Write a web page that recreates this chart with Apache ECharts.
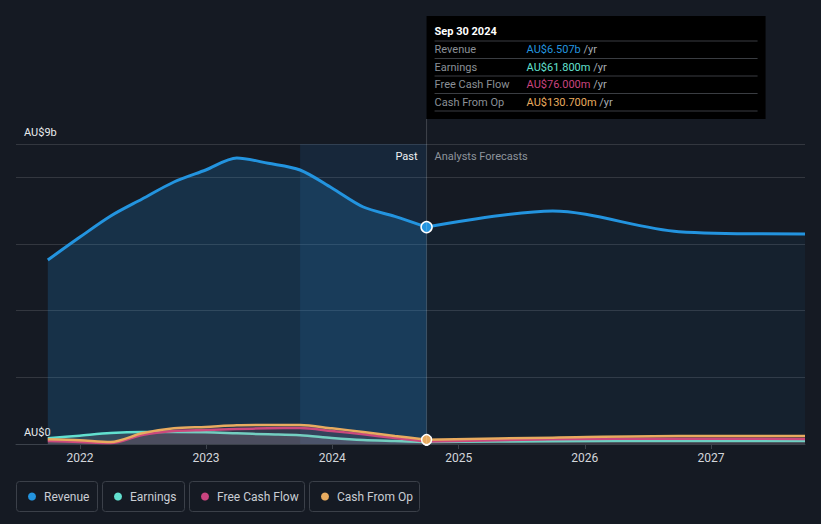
<!DOCTYPE html>
<html>
<head>
<meta charset="utf-8">
<script src="https://cdn.jsdelivr.net/npm/echarts@6/dist/echarts.min.js"></script>
<style>
html,body{margin:0;padding:0;background:#151a23;}
#chart{width:821px;height:524px;}
</style>
</head>
<body>
<div id="chart"></div>
<script>
// ---- data (values in AU$ billions) ----
const pastDates = ['2021-09-30','2021-12-31','2022-03-31','2022-06-30','2022-09-30','2022-12-31','2023-03-31','2023-06-30','2023-09-30','2023-12-31','2024-03-31','2024-06-30','2024-09-30'];
const forecastDates = ['2025-09-30','2026-09-30','2027-09-30'];
const revenuePast = [5.52,6.2,6.84,7.35,7.86,8.22,8.58,8.42,8.22,7.68,7.11,6.83,6.507];
const revenueForecast = [6.99,6.37,6.30];
const earningsPast = [0.17,0.25,0.33,0.36,0.36,0.35,0.32,0.29,0.26,0.18,0.12,0.09,0.0618];
const earningsForecast = [0.08,0.09,0.09];
const fcfPast = [0.09,0.06,0.03,0.27,0.39,0.42,0.45,0.47,0.48,0.39,0.29,0.18,0.076];
const fcfForecast = [0.14,0.16,0.15];
const cfoPast = [0.14,0.11,0.06,0.32,0.47,0.51,0.56,0.57,0.57,0.47,0.36,0.24,0.1307];
const cfoForecast = [0.19,0.24,0.24];
const seriesNames = ['Revenue','Earnings','Free Cash Flow','Cash From Op'];
const yTickLabels = {0:'AU$0', 9:'AU$9b'};
const axisMin = '2021-06-30', axisMax = '2027-09-30';
const bandStart = '2023-09-30';
const tooltipTitle = 'Sep 30 2024';

// ---- styling ----
const FONT = 'Roboto, "Noto Sans", sans-serif';
const colors = ['#2394df','#62e0cf','#c9447f','#e8ab5f'];
const ts = s => { const p = s.split('-').map(Number); return new Date(p[0], p[1]-1, p[2]).getTime(); };
const pair = (dates, vals) => dates.map((d,i)=>[ts(d), vals[i]]);
const lastPast = pastDates[pastDates.length-1];
const fcast = (vals, past) => [[ts(lastPast), past[past.length-1]]].concat(pair(forecastDates, vals));

const chart = echarts.init(document.getElementById('chart'), null, {renderer:'svg'});

function pastSeries(name, vals, color, lineW, area, z, dotSize){
  const n = vals.length;
  return {
    name, type:'line', data: pair(pastDates, vals), smooth:0.3, z,
    symbol:'circle', showAllSymbol:true,
    symbolSize:(v,p)=> p.dataIndex===n-1 ? dotSize : 0,
    itemStyle:{color, borderColor:'#ffffff', borderWidth:1.5},
    lineStyle:{color, width:lineW},
    areaStyle: area,
    emphasis:{disabled:true}, animation:false
  };
}
function forecastSeries(name, vals, past, color, lineW, area, z){
  return {
    name, type:'line', data: fcast(vals, past), smooth:0.3, z,
    symbol:'none',
    lineStyle:{color, width:lineW},
    areaStyle: area,
    emphasis:{disabled:true}, animation:false
  };
}

const revPast = pastSeries('Revenue', revenuePast, colors[0], 3, {color:'rgba(35,148,223,0.28)'}, 2, 11);
revPast.markArea = {
  silent:true,
  itemStyle:{color:'rgba(35,135,215,0.13)'},
  data:[[{xAxis: ts(bandStart), yAxis: 0},{xAxis: ts(lastPast), yAxis: 9}]]
};

const option = {
  backgroundColor:'#151a23',
  textStyle:{fontFamily:FONT},
  animation:false,
  grid:{left:16, right:16, top:144, bottom:80, containLabel:false},
  xAxis:{
    type:'time', min: ts(axisMin), max: ts(axisMax),
    splitNumber:6,
    minInterval: 365*86400000,
    axisLine:{show:true, lineStyle:{color:'#3c424b', width:1}},
    axisTick:{show:true, length:5, lineStyle:{color:'#3c424b'}},
    splitLine:{show:false},
    axisLabel:{color:'#d3d6db', fontSize:12, margin:8, fontFamily:FONT,
      formatter: v => String(new Date(v).getFullYear()), showMinLabel:false, showMaxLabel:false}
  },
  yAxis:{
    type:'value', min:0, max:9, interval:2,
    axisLine:{show:false}, axisTick:{show:false},
    splitLine:{show:true, lineStyle:{color:'rgba(255,255,255,0.13)', width:1}},
    axisLabel:{inside:true, margin:8, color:'#e8eaed', fontSize:11, fontFamily:FONT,
      verticalAlign:'bottom', padding:[0,0,6,0],
      formatter: v => yTickLabels[v] !== undefined ? yTickLabels[v] : ''}
  },
  series:[
    revPast,
    forecastSeries('Revenue', revenueForecast, revenuePast, colors[0], 3, {color:'rgba(35,148,223,0.09)'}, 2),
    pastSeries('Earnings', earningsPast, colors[1], 2.5, {color:'rgba(170,172,178,0.28)'}, 3, 6),
    forecastSeries('Earnings', earningsForecast, earningsPast, colors[1], 2.5, {color:'rgba(170,172,178,0.22)'}, 3),
    pastSeries('Free Cash Flow', fcfPast, colors[2], 2.5, {color:'rgba(200,68,127,0.14)'}, 4, 7),
    forecastSeries('Free Cash Flow', fcfForecast, fcfPast, colors[2], 2.5, {color:'rgba(200,68,127,0.12)'}, 4),
    pastSeries('Cash From Op', cfoPast, colors[3], 2.5, {color:'rgba(232,171,95,0.08)'}, 5, 10),
    forecastSeries('Cash From Op', cfoForecast, cfoPast, colors[3], 2.5, {color:'rgba(232,171,95,0.06)'}, 5)
  ]
};
chart.setOption(option);

// ---- overlay: divider, labels, tooltip box, legend ----
const px = chart.convertToPixel({xAxisIndex:0}, ts(lastPast));
const yTop = chart.convertToPixel({yAxisIndex:0}, 9);
const yZero = chart.convertToPixel({yAxisIndex:0}, 0);
const g = [];
const tipTop = 16, tipH = 103, tipW = 339;
g.push({type:'line', shape:{x1:px, y1:tipTop+tipH, x2:px, y2:yZero}, style:{stroke:'rgba(255,255,255,0.18)', lineWidth:1}, z:10});
g.push({type:'text', x:px-9, y:yTop+12, style:{text:'Past', fill:'#f0f2f4', font:'11px '+FONT, align:'right', verticalAlign:'middle'}, z:10});
g.push({type:'text', x:px+8, y:yTop+12, style:{text:'Analysts Forecasts', fill:'#8e949c', font:'11px '+FONT, align:'left', verticalAlign:'middle'}, z:10});

// tooltip
g.push({type:'rect', shape:{x:px, y:tipTop, width:tipW, height:tipH}, style:{fill:'#000000'}, z:20});
g.push({type:'text', x:px+8, y:tipTop+15, style:{text:tooltipTitle, fill:'#ffffff', font:'bold 11px '+FONT, verticalAlign:'middle'}, z:21});
const lastVals = [revenuePast, earningsPast, fcfPast, cfoPast].map(a=>a[a.length-1]);
const fmt = (v,i) => i===0 ? 'AU$'+v.toFixed(3)+'b' : 'AU$'+(v*1000).toFixed(3)+'m';
for (let i=0;i<4;i++){
  const rowTop = tipTop + 25 + i*17.5;
  g.push({type:'line', shape:{x1:px+8, y1:rowTop, x2:px+tipW-8, y2:rowTop}, style:{stroke:'#3a3d42', lineWidth:1}, z:21});
  g.push({type:'text', x:px+8, y:rowTop+8.5, style:{text:seriesNames[i], fill:'#8b9097', font:'11px '+FONT, verticalAlign:'middle'}, z:21});
  g.push({type:'text', x:px+100, y:rowTop+8.5, style:{
    text:'{v|'+fmt(lastVals[i],i)+'} {u|/yr}', verticalAlign:'middle', font:'11px '+FONT,
    rich:{v:{fill:colors[i], fontSize:11, fontFamily:FONT}, u:{fill:'#a6abb2', fontSize:11, fontFamily:FONT}}
  }, z:21});
}
g.push({type:'line', shape:{x1:px+8, y1:tipTop+25+4*17.5, x2:px+tipW-8, y2:tipTop+25+4*17.5}, style:{stroke:'#3a3d42', lineWidth:1}, z:21});

// legend
const legLeft = [16,102,189,309], legW = [81,82,115,110];
for (let i=0;i<4;i++){
  g.push({type:'rect', shape:{x:legLeft[i]+0.5, y:481.5, width:legW[i], height:30, r:3}, style:{fill:'none', stroke:'#3b4049', lineWidth:1}, z:10});
  g.push({type:'circle', shape:{cx:legLeft[i]+16, cy:496.5, r:4}, style:{fill:colors[i]}, z:10});
  g.push({type:'text', x:legLeft[i]+28, y:496.5, style:{text:seriesNames[i], fill:'#c9cdd3', font:'12px '+FONT, verticalAlign:'middle'}, z:10});
}
chart.setOption({graphic:g});
</script>
</body>
</html>
